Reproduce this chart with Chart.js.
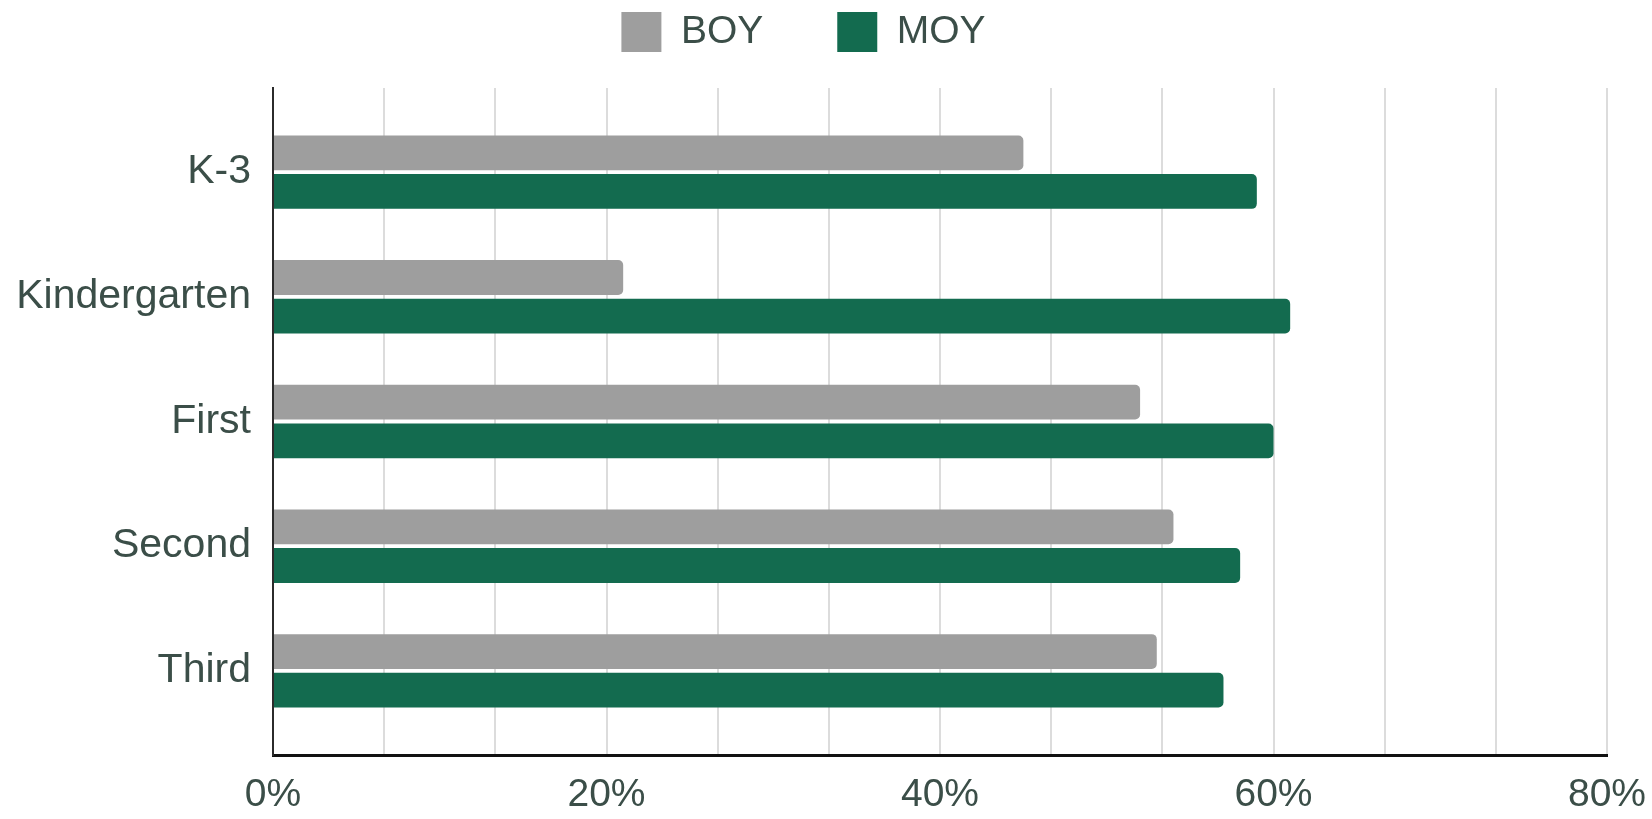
<!DOCTYPE html>
<html>
<head>
<meta charset="utf-8">
<script src="https://cdn.jsdelivr.net/npm/chart.js@4/dist/chart.umd.min.js"></script>
<style>
  html, body { margin: 0; padding: 0; background: #fff; }
  #wrap { width: 1652px; height: 819px; position: relative; }
</style>
</head>
<body>
<div id="wrap"><canvas id="chart"></canvas></div>
<script>
// data
const grades = ['K-3', 'Kindergarten', 'First', 'Second', 'Third'];
const boyValues = [45, 21, 52, 54, 53];
const moyValues = [59, 61, 60, 58, 57];
const xTickLabels = ['0%', '20%', '40%', '60%', '80%'];
const xMax = 80;
const gridSteps = 12; // light grid every 80/12

const textColor = '#3b4e48';
const fontFamily = "'Liberation Sans', Arial, sans-serif";
const labelFont = { family: fontFamily, size: 39 };

function toPoints(values) {
  return values.map((v, i) => ({ x: v, y: i }));
}

function xTickLabel(value) {
  const step = xMax / (xTickLabels.length - 1);
  const k = value / step;
  if (Math.abs(k - Math.round(k)) < 1e-6) return xTickLabels[Math.round(k)];
  return '';
}

new Chart(document.getElementById('chart'), {
  type: 'bar',
  data: {
    datasets: [
      { label: 'BOY', data: toPoints(boyValues), backgroundColor: '#9e9e9e' },
      { label: 'MOY', data: toPoints(moyValues), backgroundColor: '#136b4f' }
    ]
  },
  options: {
    indexAxis: 'y',
    responsive: true,
    maintainAspectRatio: false,
    animation: false,
    layout: { padding: { top: -62, right: 45, bottom: 0, left: 0 } },
    datasets: {
      bar: { categoryPercentage: 0.62, barPercentage: 0.9, borderRadius: 5, borderSkipped: 'start' }
    },
    plugins: {
      legend: {
        position: 'top',
        labels: { boxWidth: 40, boxHeight: 40, padding: 74, color: textColor, font: labelFont }
      },
      // empty title used as a spacer between legend and plot
      title: { display: true, text: '', weight: 500, font: { size: 10 }, padding: { top: 7, bottom: 7 } },
      tooltip: { enabled: false }
    },
    scales: {
      x: {
        type: 'linear',
        min: 0,
        max: xMax,
        afterBuildTicks: (s) => {
          s.ticks = Array.from({ length: gridSteps + 1 }, (_, i) => ({ value: (i * xMax) / gridSteps }));
        },
        afterFit: (s) => {
          s.height = 64;
          s.paddingRight = 0;
        },
        grid: { color: '#dcdcdc', lineWidth: 2, drawTicks: false },
        border: { color: '#111', width: 3 },
        ticks: {
          autoSkip: false,
          maxRotation: 0,
          padding: 17,
          color: textColor,
          font: labelFont,
          callback: (v) => xTickLabel(v)
        }
      },
      y: {
        type: 'linear',
        reverse: true,
        offset: false,
        min: -0.675,
        max: grades.length - 1 + 0.675,
        afterBuildTicks: (s) => {
          s.ticks = grades.map((_, i) => ({ value: i }));
        },
        afterFit: (s) => { s.width = 273; },
        grid: { display: false, drawTicks: false, offset: false },
        border: { display: true, color: '#2b2b2b', width: 2 },
        ticks: {
          padding: 22,
          color: textColor,
          font: { family: fontFamily, size: 41 },
          callback: (v) => grades[v]
        }
      }
    }
  }
});
</script>
</body>
</html>
